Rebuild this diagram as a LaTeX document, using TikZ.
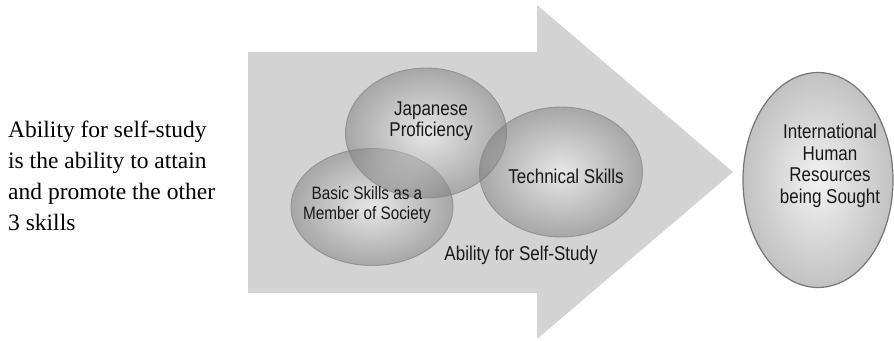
\documentclass[tikz,border=0pt]{standalone}
\usepackage{fontspec}
\setmainfont{Liberation Serif}
\newfontfamily\narrowsans[FakeStretch=0.85]{Liberation Sans}
\usetikzlibrary{shapes.geometric}
\definecolor{arrowgray}{HTML}{D3D3D3}
\definecolor{rimgray}{HTML}{8A8A8A}
\tikzset{
  skill/.style={ellipse, draw=rimgray, line width=0.9pt, draw opacity=0.8,
    shading=radial, inner color=white, outer color=black!55, fill opacity=0.45,
    inner sep=0pt},
  goal/.style={ellipse, draw=rimgray!85!black, line width=1.2pt,
    shading=radial, inner color=black!5, outer color=black!24, inner sep=0pt},
  lbl/.style={font=\narrowsans\fontsize{20}{20.5}\selectfont, align=center, inner sep=0pt, text=black!90},
  smalllbl/.style={font=\narrowsans\fontsize{18}{20}\selectfont, align=center, inner sep=0pt, text=black!90},
}
\begin{document}
\begin{tikzpicture}[x=1pt,y=-1pt]
\useasboundingbox (0,0) rectangle (894,340);
% big arrow
\fill[arrowgray] (248,52) -- (537,52) -- (537,5) -- (733,172) -- (537,339) -- (537,293) -- (248,293) -- cycle;
% skill ellipses
\node[skill, minimum width=162pt, minimum height=117pt] (basic) at (372,207) {};
\node[skill, minimum width=161pt, minimum height=130pt] (jp) at (426,133) {};
\node[skill, minimum width=163pt, minimum height=130pt] (tech) at (561,172) {};
\node[lbl] (jpt) at (431,121) {Japanese\\Proficiency};
\node[smalllbl] (basict) at (367,205) {Basic Skills as a\\Member of Society};
\node[lbl] (techt) at (566,176) {Technical Skills};
\node[lbl] (selft) at (521,255) {Ability for Self-Study};
% goal ellipse
\node[goal, minimum width=150pt, minimum height=215pt] (goal) at (818,180) {};
\node[lbl, font=\narrowsans\fontsize{20}{21.5}\selectfont] (goalt) at (830,166) {International\\Human\\Resources\\being Sought};
% left note
\node[anchor=base west, align=left, inner sep=0pt,
  font=\fontsize{23.5}{31}\selectfont] (note) at (8,230)
  {Ability for self-study\\is the ability to attain\\and promote the other\\3 skills};
\end{tikzpicture}
\end{document}
